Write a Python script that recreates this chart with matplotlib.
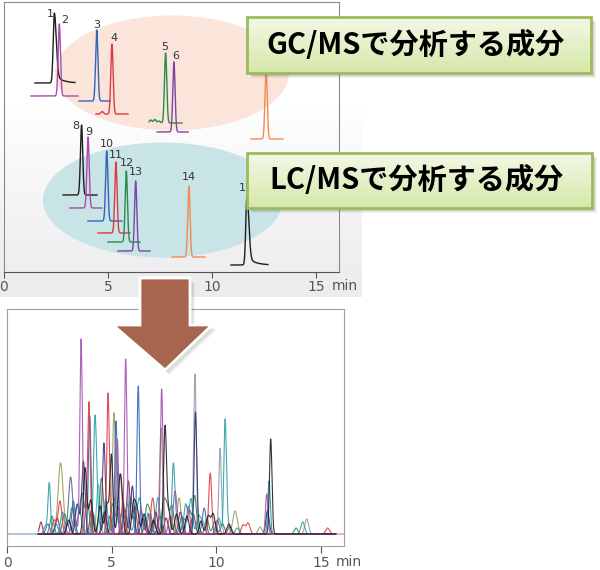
"""
GC/MS vs LC/MS component illustration.
Top: separated peaks of each component, grouped by ellipses.
Bottom: overlaid chromatogram of all components.
"""

import numpy as np
import matplotlib
matplotlib.use('Agg')
import matplotlib.pyplot as plt
from matplotlib.patches import Ellipse, Rectangle, Polygon

# ── top panel: one peak per component (offset baselines) ─────────────
top_ids = [str(i) for i in range(1, 16)]
top_rt = [2.42, 2.66, 4.46, 5.19, 7.77, 8.17, 12.60, 3.73, 4.04, 4.94,
          5.38, 5.88, 6.33, 8.89, 11.68]
top_base = [189, 176, 171, 158, 149, 140, 133, 77, 64, 51, 39, 30, 21, 15, 7]
top_height = [70, 72, 71, 70, 70, 70, 70, 70, 71, 70, 71, 71, 70, 71, 69]
top_lo = [1.49, 1.30, 3.61, 4.42, 6.97, 7.36, 11.87, 2.84, 3.17, 4.04,
          4.52, 5.00, 5.48, 8.08, 10.91]
top_hi = [3.41, 3.56, 5.10, 5.96, 8.56, 8.85, 13.41, 4.47, 4.71, 5.67,
          6.06, 6.54, 7.02, 9.66, 12.69]
top_tailing = [1, 0, 0, 0, 0, 0, 0, 0, 0, 0, 0, 0, 0, 0, 1]
top_color = ['black', 'magenta', 'blue', 'red', 'green', 'purple', 'orange',
             'black', 'magenta', 'blue', 'red', 'green', 'purple', 'orange',
             'black']
# small baseline bumps (component index, rt, height)
top_bumps = [(3, 4.72, 2.5), (4, 7.05, 3), (4, 7.25, 3.5), (4, 7.45, 2)]

# ── bottom panel: overlaid chromatogram peaks ─────────────────────────
bot_rt = [1.62, 2.02, 2.14, 2.53, 2.56, 3.04, 3.17, 3.54, 3.65, 3.73,
          3.92, 3.95, 4.20, 4.36, 4.63, 4.83, 4.99, 5.11, 5.21, 5.27,
          5.40, 5.67, 5.80, 5.99, 6.27, 6.74, 6.96, 7.36, 7.39, 7.55,
          7.95, 8.03, 8.22, 8.54, 8.66, 8.79, 8.98, 9.00, 8.97, 9.42,
          9.27, 9.71, 10.18, 10.42, 10.53, 10.90, 11.28, 11.52, 12.09, 12.41,
          12.52, 12.60, 12.45, 13.81, 14.13, 14.32, 15.32,
          1.85, 2.25, 2.35, 2.75, 2.85, 3.30, 3.42, 3.85, 4.05, 4.45,
          4.55, 4.72, 5.05, 5.35, 5.48, 5.55, 5.88, 6.05, 6.15, 6.40,
          6.55, 6.62, 6.85, 7.10, 7.25, 7.65, 7.80, 8.10, 8.35, 8.45,
          8.90, 9.15, 9.55, 9.85, 10.05, 10.30, 10.65, 11.00,
          1.95, 2.40, 2.65, 2.95, 3.10, 3.22, 3.36, 3.48, 3.60, 3.80,
          4.00, 4.12, 4.30, 4.50, 4.66, 4.78, 4.92, 5.16, 5.32, 5.45,
          5.62, 5.75, 5.95, 6.10, 6.22, 6.34, 6.48, 6.68, 6.80, 7.00,
          7.18, 7.30, 7.48, 7.60, 7.72, 7.88, 8.15, 8.28, 8.60, 8.72,
          9.08, 9.35, 9.62, 9.92, 10.12, 10.60]
bot_h = [12, 50, 18, 33, 71, 57, 33, 195, 73, 66,
         122, 118, 103, 50, 91, 141, 78, 121, 113, 95,
         60, 175, 53, 48, 148, 21, 36, 106, 145, 105,
         70, 43, 36, 30, 28, 35, 160, 111, 38, 26,
         13, 61, 86, 110, 13, 23, 9, 11, 7, 40,
         53, 95, 23, 6, 12, 15, 6,
         8, 14, 10, 20, 12, 22, 15, 30, 25, 28,
         18, 35, 30, 25, 20, 32, 22, 30, 18, 25,
         20, 15, 18, 22, 15, 25, 18, 20, 18, 15,
         20, 18, 15, 20, 14, 10, 8, 6,
         10, 16, 22, 14, 26, 18, 30, 20, 38, 24,
         34, 20, 28, 40, 22, 30, 18, 36, 26, 44,
         24, 30, 18, 28, 22, 34, 16, 26, 20, 14,
         24, 18, 30, 16, 22, 28, 14, 22, 18, 24,
         16, 12, 18, 12, 16, 10]
bot_w = [0.07, 0.06, 0.09, 0.09, 0.12, 0.10, 0.08, 0.06, 0.08, 0.08,
         0.06, 0.06, 0.07, 0.08, 0.07, 0.06, 0.07, 0.07, 0.06, 0.06,
         0.09, 0.06, 0.08, 0.08, 0.06, 0.09, 0.09, 0.07, 0.06, 0.07,
         0.07, 0.09, 0.09, 0.09, 0.08, 0.08, 0.06, 0.06, 0.08, 0.09,
         0.08, 0.07, 0.06, 0.06, 0.08, 0.11, 0.09, 0.09, 0.09, 0.06,
         0.06, 0.06, 0.08, 0.08, 0.09, 0.09, 0.09,
         0.09, 0.09, 0.09, 0.10, 0.09, 0.10, 0.09, 0.09, 0.09, 0.09,
         0.09, 0.09, 0.09, 0.09, 0.09, 0.09, 0.09, 0.09, 0.09, 0.09,
         0.09, 0.09, 0.09, 0.09, 0.09, 0.09, 0.09, 0.09, 0.09, 0.09,
         0.09, 0.09, 0.09, 0.09, 0.09, 0.09, 0.09, 0.09,
         0.09, 0.09, 0.09, 0.09, 0.09, 0.09, 0.09, 0.09, 0.09, 0.09,
         0.09, 0.09, 0.09, 0.09, 0.09, 0.09, 0.09, 0.09, 0.09, 0.09,
         0.09, 0.09, 0.09, 0.09, 0.09, 0.09, 0.09, 0.09, 0.09, 0.09,
         0.09, 0.09, 0.09, 0.09, 0.09, 0.09, 0.09, 0.09, 0.09, 0.09,
         0.09, 0.09, 0.09, 0.09, 0.09, 0.09]
bot_color = ['maroon', 'teal', 'green', 'red', 'olive', 'slate', 'blue', 'purple', 'navy', 'black',
             'red', 'blue', 'teal', 'cyan', 'dpurple', 'red', 'black', 'olive', 'blue', 'purple',
             'olive', 'purple', 'maroon', 'navy', 'blue', 'teal', 'red', 'olive', 'purple', 'black',
             'teal', 'purple', 'olive', 'teal', 'purple', 'teal', 'gray', 'navy', 'green', 'blue',
             'black', 'red', 'gray', 'teal', 'teal', 'olive', 'red', 'red', 'olive', 'purple',
             'teal', 'black', 'navy', 'green', 'teal', 'gray', 'red',
             'teal', 'red', 'blue', 'green', 'purple', 'teal', 'green', 'green', 'maroon', 'black',
             'green', 'teal', 'green', 'black', 'teal', 'red', 'green', 'black', 'teal', 'purple',
             'black', 'olive', 'green', 'navy', 'teal', 'green', 'red', 'black', 'blue', 'green',
             'maroon', 'teal', 'green', 'black', 'purple', 'green', 'red', 'teal',
             'blue', 'maroon', 'teal', 'black', 'green', 'purple', 'navy', 'teal', 'green', 'red',
             'black', 'olive', 'teal', 'green', 'navy', 'black', 'maroon', 'teal', 'green', 'black',
             'navy', 'teal', 'green', 'maroon', 'black', 'teal', 'navy', 'green', 'purple', 'black',
             'teal', 'maroon', 'green', 'navy', 'black', 'green', 'teal', 'maroon', 'black', 'green',
             'navy', 'teal', 'black', 'green', 'teal', 'black']

palette = {
    'black': '#1e1e1e', 'magenta': '#a84ca6', 'blue': '#3465b8', 'red': '#dc3a42',
    'green': '#2a8a4e', 'purple': '#7a46a8', 'orange': '#f08c52', 'teal': '#2aa0a6',
    'olive': '#9e9a5c', 'slate': '#62629a', 'navy': '#2c3470', 'maroon': '#8c2c4c',
    'dpurple': '#5b2b7a', 'cyan': '#3cbcc4', 'gray': '#9a9aa8',
}
bot_palette = dict(palette, purple='#a050b0')


def peak(t, rt, h, sl, sr, tail=0.0):
    s = np.where(t < rt, sl, sr)
    y = h * np.exp(-0.5 * ((t - rt) / s) ** 2)
    if tail:
        y = y + tail * h * np.where(t > rt, np.exp(-(t - rt) / 0.35), 0) * (1 - np.exp(-0.5 * ((t - rt) / sr) ** 2))
    return y


W, H = 600, 570
fig = plt.figure(figsize=(6, 5.7), dpi=100)


def frac(x0, y0, x1, y1):
    """pixel box (top-left origin) -> figure fraction rect"""
    return [x0 / W, (H - y1) / H, (x1 - x0) / W, (y1 - y0) / H]


# ── background layer (pixel coords) ──────────────────────────────────
ax_bg = fig.add_axes([0, 0, 1, 1], zorder=0)
ax_bg.set_xlim(0, W)
ax_bg.set_ylim(H, 0)
ax_bg.axis('off')
grad = np.linspace(0, 1, 64).reshape(-1, 1)
ax_bg.imshow(grad, extent=(0, 362, 297, 100), cmap=matplotlib.colors.LinearSegmentedColormap.from_list(
    'g', ['#ffffff', '#f5f5f6', '#ececef']), aspect='auto', zorder=0)
ax_bg.add_patch(Ellipse((172, 73), 234, 115, color='#fbe4da', lw=0, zorder=1))
ax_bg.add_patch(Ellipse((163, 200), 240, 115, color='#c8e4e7', lw=0, zorder=1))
ax_bg.set_xlim(0, W)
ax_bg.set_ylim(H, 0)

# ── top panel ────────────────────────────────────────────────────────
ax1 = fig.add_axes(frac(4, 2, 339, 272), zorder=1)
ax1.set_facecolor('none')
ax1.set_xlim(0, 335 / 20.8)
ax1.set_ylim(0, 270)
label_off = [(-4, -1), (5, 4), (0, 5), (2, 6), (-1, 6), (2, 6), None, (-6, -1),
             (1, 5), (0, 7), (0, 7), (1, 8), (0, 9), (0, 9), (-1, 8)]
for i in range(len(top_ids)):
    t = np.linspace(top_lo[i], top_hi[i], 400)
    sr = 0.09 if top_tailing[i] else 0.055
    y = top_base[i] + peak(t, top_rt[i], top_height[i], 0.055, sr, 0.12 if top_tailing[i] else 0)
    for (j, brt, bh) in top_bumps:
        if j == i:
            y = y + peak(t, brt, bh, 0.06, 0.06)
    col = palette[top_color[i]]
    ax1.plot(t, y, color=col, lw=1.0, solid_joinstyle='round')
    if label_off[i] is None:   # label hidden behind the GC/MS box
        continue
    dx, dy = label_off[i]
    ax1.annotate(top_ids[i], (top_rt[i], top_base[i] + top_height[i]),
                 xytext=(dx * 0.72, dy * 0.72), textcoords='offset points',
                 ha='center', va='center', fontsize=8, color='#333333')
for s in ['top', 'right', 'left']:
    ax1.spines[s].set_color('#8a8a8a')
    ax1.spines[s].set_linewidth(0.8)
ax1.spines['bottom'].set_color('#555555')
ax1.set_yticks([])
ax1.set_xticks([0, 5, 10, 15])
ax1.tick_params(axis='x', direction='out', length=4, width=0.8, color='#555555',
                labelsize=10, labelcolor='#555555', pad=2)
fig.text(345 / W, 1 - 286 / H, 'min', ha='center', va='center', fontsize=10, color='#555555')

# ── bottom panel ─────────────────────────────────────────────────────
ax2 = fig.add_axes(frac(7, 309, 344, 546), zorder=1)
ax2.set_facecolor('white')
ax2.set_xlim(0, 337 / 20.93)
ax2.set_ylim(-12, 225)
tt = np.linspace(1.5, 15.7, 4000)
ax2.plot([0, 1.6], [0, 0], color='#9dbad8', lw=1.2)
ax2.plot([13.0, 16.1], [0, 0], color='#f2a4aa', lw=1.2)
for name in ['olive', 'gray', 'cyan', 'slate', 'maroon', 'green', 'teal', 'blue',
             'navy', 'dpurple', 'red', 'purple', 'black']:
    y = np.zeros_like(tt)
    for rt, h, w, c in zip(bot_rt, bot_h, bot_w, bot_color):
        if c == name:
            y += peak(tt, rt, h, w, w)
    ax2.plot(tt, y, color=bot_palette[name], lw=0.8, alpha=0.9)
for s in ax2.spines.values():
    s.set_color('#a0a0a0')
    s.set_linewidth(0.8)
ax2.set_yticks([])
ax2.set_xticks([0, 5, 10, 15])
ax2.tick_params(axis='x', direction='out', length=5, width=0.8, color='#555555',
                labelsize=10, labelcolor='#555555', pad=2)
fig.text(349 / W, 1 - 562 / H, 'min', ha='center', va='center', fontsize=10, color='#555555')

# ── overlay: arrow and labelled boxes ────────────────────────────────
ax_ov = fig.add_axes([0, 0, 1, 1], zorder=5)
ax_ov.set_facecolor('none')
ax_ov.axis('off')

arrow = [(140, 278), (190, 278), (190, 325), (212, 325), (165, 370), (113, 325), (140, 325)]
for k, a in [(5, 0.06), (4, 0.08), (3, 0.10)]:
    ax_ov.add_patch(Polygon([(x + k, y + k) for x, y in arrow], closed=True,
                            color='#606060', alpha=a, lw=0))
ax_ov.add_patch(Polygon(arrow, closed=True, facecolor='#a7644f', edgecolor='white',
                        lw=2.0, joinstyle='miter'))

box_cmap = matplotlib.colors.LinearSegmentedColormap.from_list('b', ['#f3f8e6', '#d6e8aa'])
boxes = [((247, 17, 591, 73), 'GC/MSで分析する成分', 45),
         ((247, 153, 592, 208), 'LC/MSで分析する成分', 180)]
for (x0, y0, x1, y1), txt, ty in boxes:
    for k, a in [(5, 0.07), (4, 0.09), (3, 0.12)]:
        ax_ov.add_patch(Rectangle((x0 + k, y0 + k), x1 - x0, y1 - y0, color='#505050',
                                  alpha=a, lw=0))
    ax_ov.imshow(grad, extent=(x0, x1, y1, y0), cmap=box_cmap, aspect='auto', zorder=2)
    ax_ov.add_patch(Rectangle((x0, y0), x1 - x0, y1 - y0, fill=False,
                              edgecolor='#9cbc5c', lw=2.0, zorder=3))
    ax_ov.text((x0 + x1) / 2 - 3, ty, txt, ha='center', va='center', fontsize=21,
               fontweight='bold', family=['Noto Sans CJK JP', 'DejaVu Sans'],
               color='black', zorder=4)
ax_ov.set_xlim(0, W)
ax_ov.set_ylim(H, 0)

fig.savefig('out.png', dpi=100)
